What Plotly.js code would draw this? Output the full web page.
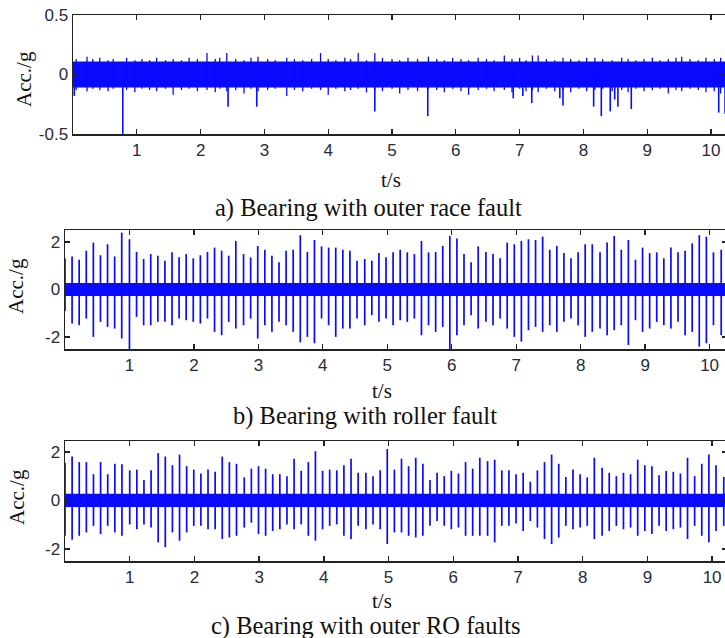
<!DOCTYPE html>
<html><head><meta charset="utf-8">
<script src="https://cdn.plot.ly/plotly-3.0.1.min.js"></script>
<style>html,body{margin:0;padding:0;overflow:hidden;background:#fff;}#chart{width:745px;height:638px;}</style>
</head><body><div id="chart"></div>
<script>
// ---------- data ----------
const xTicks = [1,2,3,4,5,6,7,8,9,10];
const yTicksA = [-0.5, 0, 0.5];
const yTickTextA = ['-0.5', '0', '0.5'];
const yTicksBC = [-2, 0, 2];
const yTickTextBC = ['-2', '0', '2'];
const captions = ['a) Bearing with outer race fault', 'b) Bearing with roller fault', 'c) Bearing with outer RO faults'];

// a) outer race fault: noise band, small band peaks, larger downward spikes
const bandA_t = [0, 10.4];
const bandA_hi = [0.11, 0.11];
const bandA_lo = [-0.11, -0.11];
const minorA_t = [0.05,0.22,0.31,0.42,0.55,0.63,0.84,0.97,1.08,1.20,1.31,1.45,1.57,1.70,1.82,1.95,2.10,2.23,2.30,2.41,2.55,2.68,2.79,2.90,3.05,3.17,3.35,3.47,3.60,3.74,3.88,4.00,4.12,4.26,4.35,4.47,4.60,4.73,4.85,5.00,5.12,5.25,5.40,5.57,5.70,5.82,5.95,6.08,6.20,6.35,6.48,6.60,6.76,6.88,7.00,7.10,7.20,7.29,7.42,7.55,7.68,7.80,7.93,8.05,8.18,8.30,8.45,8.60,8.70,8.82,8.95,9.08,9.20,9.33,9.45,9.54,9.67,9.80,9.92,10.05,10.15];
const minorA_hi = [0.13,0.15,0.13,0.14,0.12,0.13,0.14,0.12,0.13,0.12,0.14,0.12,0.13,0.12,0.14,0.13,0.18,0.13,0.14,0.18,0.13,0.12,0.14,0.15,0.13,0.12,0.14,0.13,0.12,0.13,0.18,0.13,0.12,0.14,0.13,0.18,0.12,0.18,0.14,0.13,0.12,0.14,0.13,0.15,0.13,0.12,0.14,0.13,0.12,0.14,0.13,0.12,0.16,0.13,0.14,0.12,0.16,0.16,0.13,0.12,0.14,0.13,0.12,0.14,0.14,0.13,0.12,0.14,0.13,0.12,0.13,0.14,0.12,0.13,0.14,0.15,0.13,0.12,0.14,0.13,0.14];
const minorA_lo = [-0.13,-0.14,-0.12,-0.13,-0.14,-0.12,-0.13,-0.15,-0.12,-0.13,-0.14,-0.12,-0.17,-0.13,-0.12,-0.14,-0.13,-0.15,-0.12,-0.14,-0.13,-0.16,-0.12,-0.14,-0.13,-0.12,-0.18,-0.13,-0.14,-0.12,-0.13,-0.17,-0.12,-0.14,-0.13,-0.12,-0.15,-0.13,-0.14,-0.12,-0.16,-0.13,-0.14,-0.12,-0.13,-0.15,-0.12,-0.14,-0.17,-0.13,-0.12,-0.14,-0.13,-0.15,-0.12,-0.14,-0.13,-0.15,-0.12,-0.14,-0.13,-0.15,-0.12,-0.14,-0.13,-0.12,-0.14,-0.13,-0.15,-0.12,-0.14,-0.13,-0.12,-0.16,-0.13,-0.14,-0.12,-0.13,-0.15,-0.14,-0.16];
const spikeA_t = [0.02,0.78,2.43,2.88,4.73,5.56,6.90,7.05,7.19,7.63,7.68,8.16,8.28,8.42,8.49,8.54,8.75,10.12,10.22];
const spikeA_min = [-0.18,-0.50,-0.27,-0.27,-0.31,-0.35,-0.20,-0.18,-0.24,-0.20,-0.26,-0.27,-0.35,-0.31,-0.21,-0.27,-0.29,-0.32,-0.33];

// impact times (s) shared by b) and c)
const impactT = [0.00,0.11,0.22,0.33,0.44,0.55,0.66,0.77,0.88,1.00,1.11,1.22,1.33,1.44,1.55,1.66,1.77,1.88,1.99,2.10,2.21,2.32,2.43,2.54,2.65,2.77,2.88,2.99,3.10,3.21,3.32,3.43,3.54,3.65,3.76,3.87,3.98,4.09,4.20,4.31,4.42,4.53,4.65,4.76,4.87,4.98,5.09,5.20,5.31,5.42,5.53,5.64,5.75,5.86,5.97,6.08,6.19,6.30,6.41,6.53,6.64,6.75,6.86,6.97,7.08,7.19,7.30,7.41,7.52,7.63,7.74,7.85,7.96,8.07,8.18,8.30,8.41,8.52,8.63,8.74,8.85,8.96,9.07,9.18,9.29,9.40,9.51,9.62,9.73,9.84,9.95,10.06,10.18];

// b) roller fault
const bandB_hi = [0.27, 0.27];
const bandB_lo = [-0.27, -0.27];
const peakB = [1.30,1.39,1.25,1.63,1.97,1.44,1.90,1.39,2.39,2.11,1.58,1.28,1.49,1.42,1.21,1.56,1.35,1.49,1.31,1.44,1.58,1.76,1.63,1.42,2.04,1.49,1.35,1.83,1.67,1.42,1.14,1.63,1.67,2.28,1.58,2.08,1.81,1.76,1.76,1.67,1.63,1.21,1.28,1.21,1.53,1.35,1.56,1.67,1.56,1.49,2.04,1.56,1.58,1.83,2.25,2.14,1.49,1.14,1.81,1.58,1.49,1.31,1.97,1.90,2.04,2.11,2.08,2.22,1.67,1.83,1.53,1.31,1.56,1.90,1.90,1.56,1.97,2.25,1.67,2.08,1.25,1.76,1.53,1.56,1.31,1.76,1.56,1.63,1.94,2.28,2.22,1.56,1.67];
const troughB = [-0.90,-1.43,-1.50,-1.22,-1.99,-1.36,-1.57,-1.64,-2.06,-2.50,-1.15,-1.50,-1.50,-1.36,-1.36,-1.50,-1.22,-1.29,-1.36,-1.43,-1.22,-1.78,-1.92,-1.36,-1.64,-1.50,-1.22,-2.06,-1.50,-1.78,-1.36,-1.50,-1.78,-2.22,-1.99,-2.26,-1.22,-1.50,-1.99,-1.64,-1.64,-1.22,-1.50,-1.08,-1.36,-1.22,-1.50,-1.29,-1.36,-1.22,-1.92,-1.50,-1.78,-1.57,-2.50,-1.92,-1.50,-1.08,-1.64,-1.36,-1.50,-1.22,-1.64,-1.99,-2.19,-1.71,-1.57,-1.78,-1.50,-1.78,-1.36,-1.22,-1.50,-1.99,-1.78,-1.64,-1.92,-1.71,-1.50,-2.33,-1.29,-1.78,-1.64,-1.36,-1.50,-1.64,-1.36,-1.92,-1.78,-2.40,-2.26,-1.50,-1.92];

// c) outer + roller faults
const bandC_hi = [0.27, 0.27];
const bandC_lo = [-0.27, -0.27];
const peakC = [1.54,1.81,1.58,1.58,1.08,1.58,1.08,1.51,1.49,1.24,1.27,0.84,1.24,1.95,1.81,1.45,1.89,1.41,1.27,1.11,1.27,1.18,1.81,1.58,1.51,0.95,1.31,1.41,1.31,1.08,1.08,1.00,1.72,1.22,1.58,2.03,1.22,1.27,1.24,1.45,1.72,1.14,1.14,1.00,1.24,2.12,1.27,1.72,1.41,1.76,1.51,0.84,1.14,1.00,1.22,1.11,1.58,1.31,1.76,1.62,1.68,1.24,1.24,1.08,1.14,0.77,1.24,1.58,1.89,1.51,0.97,1.27,1.08,0.95,1.76,1.35,1.14,1.00,1.14,1.08,1.68,1.45,1.41,1.04,1.22,1.18,1.11,1.76,1.00,1.51,1.89,1.45,0.97];
const troughC = [-1.46,-1.62,-1.46,-1.32,-1.05,-1.39,-1.05,-1.32,-1.46,-0.99,-1.19,-0.99,-1.12,-1.73,-1.93,-1.32,-1.66,-1.32,-1.05,-1.05,-1.19,-1.19,-1.59,-1.53,-1.46,-1.12,-0.92,-1.39,-1.46,-1.26,-1.19,-0.99,-1.19,-0.99,-1.46,-1.66,-1.19,-1.05,-0.99,-1.46,-1.59,-1.05,-1.19,-0.99,-1.19,-1.80,-1.32,-1.32,-1.46,-1.53,-1.46,-1.05,-0.85,-1.05,-1.19,-1.12,-1.46,-1.46,-1.46,-1.46,-1.73,-1.05,-1.05,-0.95,-1.26,-0.85,-1.12,-1.59,-1.80,-1.53,-1.05,-1.19,-1.12,-1.05,-1.59,-1.46,-1.26,-1.05,-1.19,-1.12,-1.46,-1.26,-1.39,-1.05,-1.26,-1.19,-1.12,-1.59,-1.05,-1.46,-1.73,-1.26,-1.05];

// ---------- helpers ----------
const BLUE = '#0a0aff';
function segs(t, lo, hi) {
  const x = [], y = [];
  for (let i = 0; i < t.length; i++) {
    const l = Array.isArray(lo) ? lo[i] : lo;
    const h = Array.isArray(hi) ? hi[i] : hi;
    x.push(t[i], t[i], null); y.push(l, h, null);
  }
  return {x, y};
}
function band(t, lo, hi, xa, ya) {
  return [
    {type:'scatter', mode:'lines', x:t, y:lo, xaxis:xa, yaxis:ya, line:{width:0, color:BLUE}, hoverinfo:'skip', showlegend:false},
    {type:'scatter', mode:'lines', x:t, y:hi, xaxis:xa, yaxis:ya, fill:'tonexty', fillcolor:BLUE, line:{width:0, color:BLUE}, hoverinfo:'skip', showlegend:false}
  ];
}
function lineTrace(s, xa, ya, w) {
  return {type:'scatter', mode:'lines', x:s.x, y:s.y, xaxis:xa, yaxis:ya, connectgaps:false,
          line:{color:BLUE, width:w}, hoverinfo:'skip', showlegend:false};
}

const traces = [];
traces.push(...band(bandA_t, bandA_lo, bandA_hi, 'x', 'y'));
traces.push(lineTrace(segs(minorA_t, minorA_lo, minorA_hi), 'x', 'y', 1.3));
traces.push(lineTrace(segs(spikeA_t, spikeA_min, 0), 'x', 'y', 1.6));

traces.push(...band(bandA_t, bandB_lo, bandB_hi, 'x2', 'y2'));
traces.push(lineTrace(segs(impactT, troughB, peakB), 'x2', 'y2', 1.7));

traces.push(...band(bandA_t, bandC_lo, bandC_hi, 'x3', 'y3'));
traces.push(lineTrace(segs(impactT, troughC, peakC), 'x3', 'y3', 1.7));

// ---------- layout ----------
const W = 745, H = 638;
const px = v => v / W, py = v => 1 - v / H;
const tickFont = {family:'Liberation Sans, Arial, sans-serif', size:17, color:'#2a2a3a'};
function xAxis(dom, range, anchor) {
  return {domain:dom, range:range, anchor:anchor, tickvals:xTicks, ticktext:xTicks.map(String),
          ticks:'inside', ticklen:5, tickwidth:1.3, tickcolor:'#222', showline:true, linecolor:'#222', linewidth:1.5,
          mirror:'ticks', showgrid:false, zeroline:false, tickfont:tickFont};
}
function yAxis(dom, range, anchor, vals, txt) {
  return {domain:dom, range:range, anchor:anchor, tickvals:vals, ticktext:txt,
          ticks:'inside', ticklen:5, tickwidth:1.3, tickcolor:'#222', showline:true, linecolor:'#222', linewidth:1.5,
          mirror:'ticks', showgrid:false, zeroline:false, tickfont:tickFont};
}
const serif = 'Liberation Serif, Times New Roman, serif';
function ann(text, x, y, size, angle) {
  return {text:text, x:px(x), y:py(y), xref:'paper', yref:'paper', showarrow:false, xanchor:'center', yanchor:'middle',
          textangle:angle || 0, font:{family:serif, size:size, color:'#111'}};
}
const layout = {
  width:W, height:H, margin:{l:0, r:0, t:0, b:0}, paper_bgcolor:'#fff', plot_bgcolor:'#fff', showlegend:false,
  xaxis: xAxis([px(73), px(727)], [0, 10.25], 'y'),
  yaxis: yAxis([py(134), py(15)], [-0.5, 0.5], 'x', yTicksA, yTickTextA),
  xaxis2: xAxis([px(65), px(727)], [0, 10.27], 'y2'),
  yaxis2: yAxis([py(349), py(230)], [-2.5, 2.5], 'x2', yTicksBC, yTickTextBC),
  xaxis3: xAxis([px(65), px(727)], [0, 10.23], 'y3'),
  yaxis3: yAxis([py(561), py(441)], [-2.5, 2.45], 'x3', yTicksBC, yTickTextBC),
  annotations: [
    ann('Acc./g', 24, 79, 21, -90), ann('t/s', 391, 180, 21), ann(captions[0], 368, 208, 24.5),
    ann('Acc./g', 16, 286, 21, -90), ann('t/s', 382, 391, 21), ann(captions[1], 365, 416, 24.5),
    ann('Acc./g', 17, 497, 21, -90), ann('t/s', 382, 601, 21), ann(captions[2], 366, 626, 24.5)
  ]
};
Plotly.newPlot('chart', traces, layout, {staticPlot:true, displayModeBar:false});
</script>
</body></html>
